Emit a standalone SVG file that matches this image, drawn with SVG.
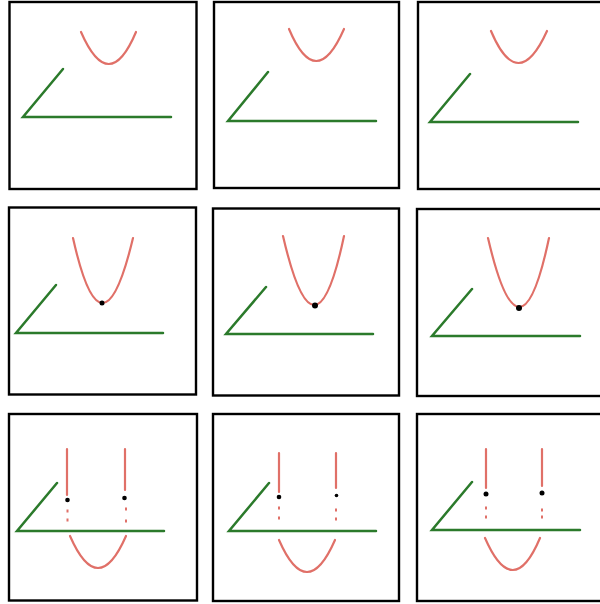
<svg xmlns="http://www.w3.org/2000/svg" width="600" height="604" viewBox="0 0 600 604">
<style>
.box{fill:#fff;stroke:#000;stroke-width:2.4}
.par{fill:none;stroke:#e07068;stroke-width:2.2;stroke-linecap:round}
.dash{fill:none;stroke:#e07068;stroke-width:2;stroke-linecap:butt}
.ang{fill:none;stroke:#2b7a2b;stroke-width:2.5;stroke-linecap:round;stroke-linejoin:miter}
.dot{fill:#000}
</style>
<rect width="600" height="604" fill="#fff"/>
<g id="panel1">
<rect class="box" x="9.5" y="2" width="187" height="187"/>
<path class="par" d="M81,32 Q109,96 136,32"/>
<path class="ang" d="M63,69 L23,117 L171,117"/>
</g>
<g id="panel2">
<rect class="box" x="214" y="2" width="185" height="186"/>
<path class="par" d="M289,29 Q316,93 344,29"/>
<path class="ang" d="M268,72 L228,121 L376,121"/>
</g>
<g id="panel3">
<rect class="box" x="418" y="2" width="190" height="187"/>
<path class="par" d="M491,31 Q518,95 547,31"/>
<path class="ang" d="M470,74 L430,122 L578,122"/>
</g>
<g id="panel4">
<rect class="box" x="9" y="207.5" width="187" height="187"/>
<path class="par" d="M73,238 Q102,368 133,238"/>
<path class="ang" d="M56,285 L16,333 L163,333"/>
<circle class="dot" cx="102" cy="303" r="2.5"/>
</g>
<g id="panel5">
<rect class="box" x="213" y="208.5" width="186" height="187"/>
<path class="par" d="M283,236 Q315,374 344,236"/>
<path class="ang" d="M266,287 L226,334 L373,334"/>
<circle class="dot" cx="315" cy="305.5" r="3"/>
</g>
<g id="panel6">
<rect class="box" x="417" y="209" width="190" height="187"/>
<path class="par" d="M488,238 Q520,376 549,238"/>
<path class="ang" d="M472,289 L432,336 L580,336"/>
<circle class="dot" cx="519" cy="308" r="3"/>
</g>
<g id="panel7">
<rect class="box" x="9" y="414" width="188" height="186.5"/>
<path class="par" d="M67,449 V495 M125,449 V490"/>
<circle class="dot" cx="67.5" cy="500" r="2.3"/>
<circle class="dot" cx="124.5" cy="498" r="2.3"/>
<path class="dash" d="M67.5,509.5 v3 M67.5,518.5 v3 M126,507.5 v3 M126,519.5 v3"/>
<path class="par" d="M70,536 Q98,600 126,536"/>
<path class="ang" d="M57,483 L17,531 L164,531"/>
</g>
<g id="panel8">
<rect class="box" x="213" y="414" width="186" height="187"/>
<path class="par" d="M279,453 V492 M336,453 V488"/>
<circle class="dot" cx="279" cy="497" r="2.3"/>
<circle class="dot" cx="336.5" cy="495.5" r="1.8"/>
<path class="dash" d="M279,506.5 v3 M279,516.5 v3 M336,508.5 v3 M336,517.5 v3"/>
<path class="par" d="M279,540 Q307,604 335,540"/>
<path class="ang" d="M269,483 L229,531 L376,531"/>
</g>
<g id="panel9">
<rect class="box" x="417" y="414" width="190" height="187"/>
<path class="par" d="M486,449 V488 M542,449 V486"/>
<circle class="dot" cx="486" cy="494" r="2.5"/>
<circle class="dot" cx="542" cy="493" r="2.5"/>
<path class="dash" d="M486,506.5 v3 M486,515.5 v3 M542,508.5 v3 M542,515.5 v3"/>
<path class="par" d="M485,538 Q513,602 540,538"/>
<path class="ang" d="M472,482 L432,530 L580,530"/>
</g>
</svg>
